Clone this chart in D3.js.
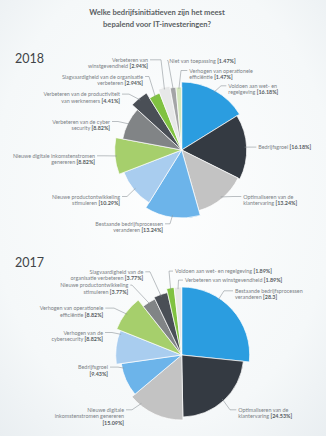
<!DOCTYPE html>
<html>
<head>
<meta charset="utf-8">
<script src="https://cdn.jsdelivr.net/npm/d3@7/dist/d3.min.js"></script>
<style>
  html, body { margin: 0; padding: 0; background: #f4f7f8; }
  svg { display: block; }
</style>
</head>
<body>
<svg id="chart" width="326" height="436"></svg>
<script>
// ---- data ----
const title = ["Welke bedrijfsinitiatieven zijn het meest", "bepalend voor IT-investeringen?"];

const categories2018 = [
  "Voldoen aan wet- en regelgeving",
  "Bedrijfsgroei",
  "Optimaliseren van de klantervaring",
  "Bestaande bedrijfsprocessen veranderen",
  "Nieuwe productontwikkeling stimuleren",
  "Nieuwe digitale inkomstenstromen genereren",
  "Verbeteren van de cyber security",
  "Verbeteren van de productiviteit van werknemers",
  "Slagvaardigheid van de organisatie verbeteren",
  "Verbeteren van winstgevendheid",
  "Niet van toepassing",
  "Verhogen van operationele efficiëntie"
];
const values2018 = [16.18, 16.18, 13.24, 13.24, 10.29, 8.82, 8.82, 4.41, 2.94, 2.94, 1.47, 1.47];

const categories2017 = [
  "Bestaande bedrijfsprocessen veranderen",
  "Optimaliseren van de klantervaring",
  "Nieuwe digitale inkomstenstromen genereren",
  "Bedrijfsgroei",
  "Verhogen van de cybersecurity",
  "Verhogen van operationele efficiëntie",
  "Nieuwe productontwikkeling stimuleren",
  "Slagvaardigheid van de organisatie verbeteren",
  "Voldoen aan wet- en regelgeving",
  "Verbeteren van winstgevendheid"
];
const values2017 = [28.3, 24.53, 15.09, 9.43, 8.82, 8.82, 3.77, 3.77, 1.89, 1.89];
// value tags printed without a percent sign
const unitless2017 = ["Bestaande bedrijfsprocessen veranderen"];

// ---- styling / layout ----
const palette = ["#2b9de0", "#343a42", "#c3c3c3", "#6cb4ea", "#a9cdef", "#a6cf6c",
                 "#818486", "#4a4f56", "#80c241", "#e7e8e8", "#a4a5a6", "#d5e8bd"];

const layout2018 = {
  year: "2018", yearY: 62.5, cx: 181.7, cy: 150,
  radii: [68, 65, 63, 68, 62, 67, 60, 67, 61, 65, 63, 63],
  labels: [
    { x: 228.3, y: 87.8,  anchor: "start", breaks: [4], knee: 221, t: 0.5 },
    { x: 258.3, y: 149.1, anchor: "start", breaks: [],  knee: 252, t: 0.5 },
    { x: 243.3, y: 198.5, anchor: "start", breaks: [3], knee: 233, t: 0.5 },
    { x: 163,   y: 225.8, anchor: "end",   breaks: [2], knee: 170, t: 0.5 },
    { x: 120,   y: 198.5, anchor: "end",   breaks: [2], knee: 127, t: 0.5 },
    { x: 95,    y: 157.8, anchor: "end",   breaks: [3], knee: 104, t: 0.5 },
    { x: 110,   y: 123.5, anchor: "end",   breaks: [4], knee: 118, t: 0.5 },
    { x: 120,   y: 96.1,  anchor: "end",   breaks: [4], knee: 129, t: 0.5 },
    { x: 143,   y: 78.5,  anchor: "end",   breaks: [4], knee: 149, t: 0.5 },
    { x: 148,   y: 61.8,  anchor: "end",   breaks: [2], knee: 161, t: 0.5 },
    { x: 169.3, y: 62.5,  anchor: "start", breaks: [],  knee: 168, t: 0.5 },
    { x: 189.3, y: 72.5,  anchor: "start", breaks: [3], knee: 181, t: 0.5 }
  ]
};

const layout2017 = {
  year: "2017", yearY: 266.5, cx: 181.7, cy: 355,
  radii: [68, 62, 65, 61, 66, 70, 62, 64, 68, 68],
  labels: [
    { x: 235,   y: 292.8, anchor: "start", breaks: [2],    knee: 224,   t: 0.35 },
    { x: 238.3, y: 411.8, anchor: "start", breaks: [3],    knee: 230,   t: 0.5 },
    { x: 124,   y: 411.8, anchor: "end",   breaks: [2, 4], knee: 132,   t: 0.8 },
    { x: 108,   y: 369.1, anchor: "end",   breaks: [1],    knee: 118,   t: 0.85 },
    { x: 103,   y: 334.5, anchor: "end",   breaks: [3],    knee: 112,   t: 0.9 },
    { x: 103.3, y: 310.1, anchor: "end",   breaks: [3],    knee: 114,   t: 0.5 },
    { x: 128.3, y: 287.1, anchor: "end",   breaks: [2],    knee: 132,   t: 0.5 },
    { x: 143.3, y: 273.8, anchor: "end",   breaks: [3],    knee: 150,   t: 0.5 },
    { x: 175,   y: 273.1, anchor: "start", breaks: [],     knee: 169,   t: 0.5 },
    { x: 185,   y: 282.1, anchor: "start", breaks: [],     knee: 178.5, t: 0.5 }
  ]
};

const FONT = "Lato, 'Open Sans', sans-serif";
const svg = d3.select("#chart");

// soft page background
const defs = svg.append("defs");
const bg = defs.append("radialGradient").attr("id", "bg")
  .attr("cx", "50%").attr("cy", "45%").attr("r", "75%");
bg.append("stop").attr("offset", "0%").attr("stop-color", "#fdfefe");
bg.append("stop").attr("offset", "70%").attr("stop-color", "#f5f8f9");
bg.append("stop").attr("offset", "100%").attr("stop-color", "#e9eef1");
svg.append("rect").attr("width", 326).attr("height", 436).attr("fill", "url(#bg)");

// title
svg.append("g").selectAll("text").data(title).join("text")
  .attr("x", 157).attr("y", (d, i) => 15.3 + i * 11.2)
  .attr("text-anchor", "middle")
  .attr("font-family", FONT).attr("font-size", 7.6).attr("font-weight", 700)
  .attr("fill", "#5a5f64")
  .text(d => d);

function drawPie(categories, values, layout, unitless) {
  const g = svg.append("g");
  const fmt = d3.format("~r");

  g.append("text")
    .attr("x", 15).attr("y", layout.yearY)
    .attr("font-family", FONT).attr("font-size", 12.5).attr("font-weight", 400)
    .attr("fill", "#3f4448")
    .text(layout.year);

  const rows = categories.map((c, i) => ({ category: c, value: values[i], i }));
  const pie = d3.pie().value(d => d.value).sort(null);
  const arcs = pie(rows);

  const plot = g.append("g").attr("transform", `translate(${layout.cx},${layout.cy})`);

  plot.selectAll("path").data(arcs).join("path")
    .attr("d", d => d3.arc().innerRadius(0).outerRadius(layout.radii[d.index])(d))
    .attr("fill", d => palette[d.index])
    .attr("stroke", "#ffffff").attr("stroke-width", 0.7).attr("stroke-linejoin", "round");

  // labels and leader lines
  arcs.forEach(a => {
    const L = layout.labels[a.index];
    const r = layout.radii[a.index] - 2;
    const ang = a.startAngle + (a.endAngle - a.startAngle) * L.t;
    const ex = layout.cx + r * Math.sin(ang);
    const ey = layout.cy - r * Math.cos(ang);
    const sx = L.anchor === "end" ? L.x + 2 : L.x - 2;
    const ly = L.y - 2;

    g.append("path")
      .attr("d", d3.line()([[sx, ly], [L.knee, ly], [ex, ey]]))
      .attr("fill", "none").attr("stroke", "#8e959b").attr("stroke-width", 0.6);

    const words = a.data.category.split(" ");
    const cuts = [0, ...L.breaks, words.length];
    const lines = [];
    for (let k = 0; k < cuts.length - 1; k++) lines.push(words.slice(cuts[k], cuts[k + 1]).join(" "));
    const tag = "[" + fmt(a.data.value) + (unitless.includes(a.data.category) ? "" : "%") + "]";

    const text = g.append("text")
      .attr("x", L.x).attr("y", L.y)
      .attr("text-anchor", L.anchor)
      .attr("font-family", FONT).attr("font-size", 5.4)
      .attr("fill", "#7b8186");

    lines.forEach((ln, k) => {
      const last = k === lines.length - 1;
      const ts = text.append("tspan").attr("x", L.x).attr("dy", k === 0 ? 0 : 6.5);
      if (ln.length) ts.text(last ? ln + " " : ln);
      if (last) {
        ts.append("tspan").attr("font-weight", 700).attr("fill", "#555b60").text(tag);
      }
    });
  });
}

drawPie(categories2018, values2018, layout2018, []);
drawPie(categories2017, values2017, layout2017, unitless2017);
</script>
</body>
</html>
